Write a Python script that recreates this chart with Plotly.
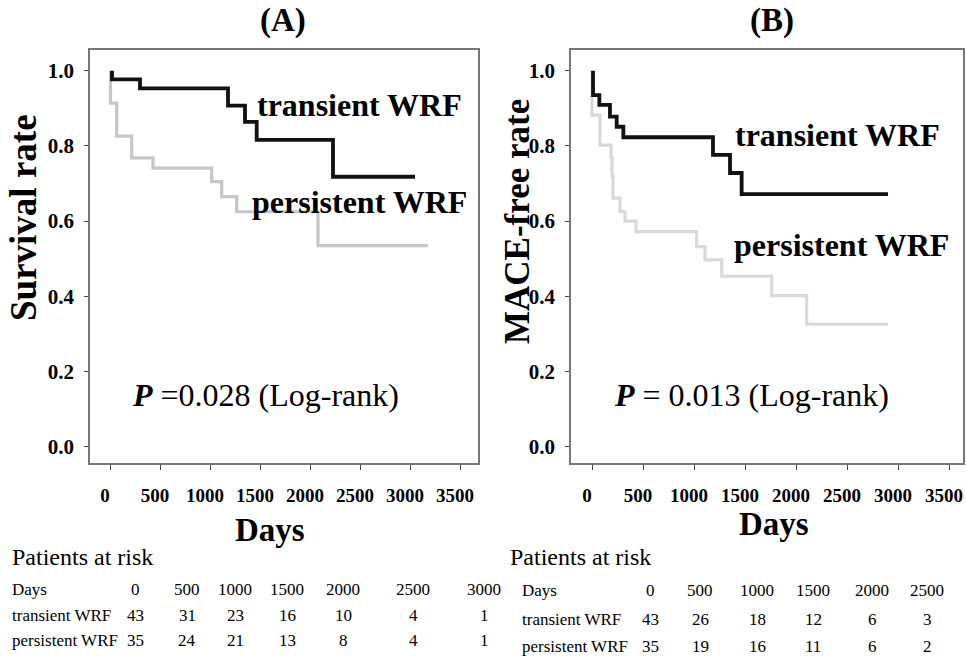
import plotly.graph_objects as go

# ---------------- data ----------------
# Panel A (survival)
a_trans_days = [20, 20, 300, 1180, 1350, 1467, 2230, 3050]
a_trans_surv = [1.0, 0.977, 0.953, 0.907, 0.864, 0.816, 0.718, 0.718]
a_pers_days = [5, 5, 67, 217, 430, 1017, 1117, 1267, 2080, 3180]
a_pers_surv = [1.0, 0.914, 0.826, 0.768, 0.741, 0.705, 0.665, 0.625, 0.535, 0.535]

# Panel B (MACE-free)
b_trans_days = [10, 10, 72, 176, 242, 307, 1186, 1353, 1467, 2902]
b_trans_surv = [1.0, 0.935, 0.909, 0.878, 0.851, 0.823, 0.776, 0.728, 0.672, 0.672]
b_pers_days = [0, 0, 78, 186, 196, 206, 275, 324, 431, 1026, 1108, 1272, 1762, 2105, 2902]
b_pers_surv = [1.0, 0.882, 0.802, 0.77, 0.72, 0.661, 0.625, 0.6, 0.572, 0.532, 0.497, 0.454, 0.402, 0.326, 0.326]

x_ticks = [0, 500, 1000, 1500, 2000, 2500, 3000, 3500]
y_ticks = [0.0, 0.2, 0.4, 0.6, 0.8, 1.0]

# Patients at risk
risk_days_a = [0, 500, 1000, 1500, 2000, 2500, 3000]
risk_trans_a = [43, 31, 23, 16, 10, 4, 1]
risk_pers_a = [35, 24, 21, 13, 8, 4, 1]
risk_days_b = [0, 500, 1000, 1500, 2000, 2500]
risk_trans_b = [43, 26, 18, 12, 6, 3]
risk_pers_b = [35, 19, 16, 11, 6, 2]

W, H = 966, 656
SERIF = "Liberation Serif"
BLACK = "#111111"
GREY_A = "#c6c6c6"
GREY_B = "#d9d9d9"


def px(x):
    return x / W


def py(y):
    return 1 - y / H


fig = go.Figure()
fig.add_trace(go.Scatter(x=a_pers_days, y=a_pers_surv, mode="lines", line_shape="hv",
                         line=dict(color=GREY_A, width=3.2), xaxis="x", yaxis="y", showlegend=False))
fig.add_trace(go.Scatter(x=a_trans_days, y=a_trans_surv, mode="lines", line_shape="hv",
                         line=dict(color=BLACK, width=3.8), xaxis="x", yaxis="y", showlegend=False))
fig.add_trace(go.Scatter(x=b_pers_days, y=b_pers_surv, mode="lines", line_shape="hv",
                         line=dict(color=GREY_B, width=3.2), xaxis="x2", yaxis="y2", showlegend=False))
fig.add_trace(go.Scatter(x=b_trans_days, y=b_trans_surv, mode="lines", line_shape="hv",
                         line=dict(color=BLACK, width=3.8), xaxis="x2", yaxis="y2", showlegend=False))

y_dom = [py(463), py(50)]
common_x = dict(tickvals=x_ticks, ticks="outside", ticklen=5, tickcolor="#444", tickwidth=1.2,
                showline=True, mirror=True, linecolor="#777", linewidth=1.5, showgrid=False,
                zeroline=False, ticklabelstandoff=9, ticklabelshift=-5,
                ticklabeloverflow="allow",
                tickfont=dict(family=SERIF, size=19, color="black", weight="bold"))
common_y = dict(tickvals=y_ticks, tickformat=".1f", ticks="outside", ticklen=4, tickcolor="#444",
                tickwidth=1.2, showline=True, mirror=True, linecolor="#777", linewidth=1.5,
                showgrid=False, zeroline=False, range=[-0.043, 1.055], ticklabelstandoff=6,
                tickfont=dict(family=SERIF, size=21, color="black", weight="bold"))

fig.update_layout(
    width=W, height=H, margin=dict(l=0, r=0, t=0, b=0),
    paper_bgcolor="white", plot_bgcolor="white",
    xaxis=dict(domain=[px(90), px(478)], range=[-200, 3680], anchor="y", **common_x),
    yaxis=dict(domain=y_dom, anchor="x", **common_y),
    xaxis2=dict(domain=[px(571), px(963)], range=[-206, 3637], anchor="y2", **common_x),
    yaxis2=dict(domain=y_dom, anchor="x2", **common_y),
)

ann = []


def text(x, y, s, size, xanchor="center", yanchor="middle", textangle=0, xref="paper", yref="paper"):
    ann.append(dict(x=x, y=y, xref=xref, yref=yref, text=s, showarrow=False,
                    xanchor=xanchor, yanchor=yanchor, textangle=textangle,
                    font=dict(family=SERIF, size=size, color="black")))


# titles
text(px(283), py(20), "<b>(A)</b>", 33)
text(px(772), py(20), "<b>(B)</b>", 33)
# y titles
text(px(24), py(218), "<b>Survival rate</b>", 37, textangle=-90)
text(px(518), py(222), "<b>MACE-free rate</b>", 35, textangle=-90)
# x titles
text(px(270), py(530), "<b>Days</b>", 33)
text(px(774), py(524), "<b>Days</b>", 33)

# curve labels (data coords)
text(1450, 0.908, "<b>transient WRF</b>", 32, xanchor="left", xref="x", yref="y")
text(1400, 0.652, "<b>persistent WRF</b>", 32, xanchor="left", xref="x", yref="y")
text(1382, 0.829, "<b>transient WRF</b>", 32, xanchor="left", xref="x2", yref="y2")
text(1373, 0.536, "<b>persistent WRF</b>", 32, xanchor="left", xref="x2", yref="y2")

# p-values
text(200, 0.137, "<b><i>P</i></b> =0.028 (Log-rank)", 32, xanchor="left", xref="x", yref="y")
text(196, 0.137, "<b><i>P</i></b> = 0.013 (Log-rank)", 32, xanchor="left", xref="x2", yref="y2")

# patients at risk tables
text(px(10), py(557), "Patients at risk", 24, xanchor="left")
text(px(508), py(557), "Patients at risk", 24, xanchor="left")

cols_a = [135, 187, 235, 287, 343, 413, 484]
cols_b = [650, 700, 757, 813, 872, 927]
rows_a = [589, 615, 640]
rows_b = [590, 619, 646]

for lbl, r in zip(["Days", "transient WRF", "persistent WRF"], rows_a):
    text(px(10), py(r), lbl, 17, xanchor="left")
for lbl, r in zip(["Days", "transient WRF", "persistent WRF"], rows_b):
    text(px(520), py(r), lbl, 17, xanchor="left")

for row_vals, r in zip([risk_days_a, risk_trans_a, risk_pers_a], rows_a):
    for v, c in zip(row_vals, cols_a):
        text(px(c), py(r), str(v), 17)
for row_vals, r in zip([risk_days_b, risk_trans_b, risk_pers_b], rows_b):
    for v, c in zip(row_vals, cols_b):
        text(px(c), py(r), str(v), 17)

fig.update_layout(annotations=ann)
fig.write_html("out.html")
